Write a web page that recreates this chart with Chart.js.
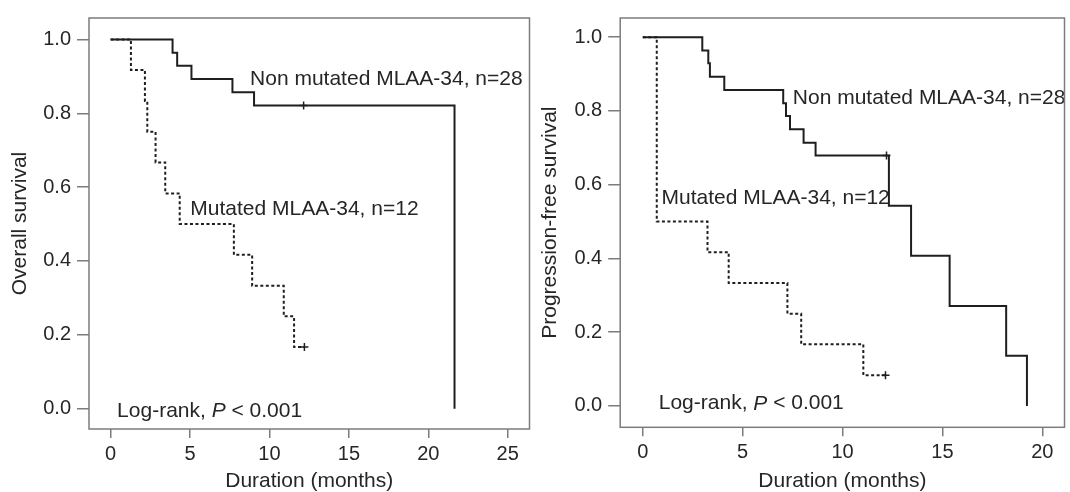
<!DOCTYPE html>
<html>
<head>
<meta charset="utf-8">
<script src="https://cdn.jsdelivr.net/npm/chart.js@4.4.0/dist/chart.umd.min.js"></script>
<style>
    html, body { margin: 0; padding: 0; background: #fff; overflow: hidden; }
    #wrap { position: relative; width: 1070px; height: 492px; overflow: hidden; }
    canvas { position: absolute; top: 0; }
</style>
</head>
<body>
<div id="wrap">
    <canvas id="osChart" width="535" height="500" style="left:0"></canvas>
    <canvas id="pfsChart" width="535" height="500" style="left:535px"></canvas>
</div>
<script>
// Tick values
const osTicksX = [0, 5, 10, 15, 20, 25];
const pfsTicksX = [0, 5, 10, 15, 20];
const survTicks = [0, 0.2, 0.4, 0.6, 0.8, 1.0];

// Overall survival - non mutated MLAA-34 (n=28)
const osNonTime = [0, 3.9, 4.19, 5.09, 7.67, 9.03, 21.65];
const osNonSurv = [1, 0.964, 0.929, 0.893, 0.857, 0.821, 0];
const osNonCensorTime = [12.15];
const osNonCensorSurv = [0.821];

// Overall survival - mutated MLAA-34 (n=12)
const osMutTime = [0, 1.28, 2.16, 2.31, 2.83, 3.44, 4.35, 7.76, 8.91, 10.9, 11.55, 12.2];
const osMutSurv = [1, 0.917, 0.833, 0.75, 0.667, 0.583, 0.5, 0.417, 0.333, 0.25, 0.167, 0.167];
const osMutCensorTime = [12.2];
const osMutCensorSurv = [0.167];

// Progression-free survival - non mutated MLAA-34 (n=28)
const pfsNonTime = [0, 2.98, 3.28, 3.36, 4.08, 7.03, 7.17, 7.37, 8.05, 8.65, 12.32, 13.43, 15.36, 18.19, 19.23];
const pfsNonSurv = [1, 0.964, 0.929, 0.893, 0.857, 0.821, 0.786, 0.75, 0.714, 0.679, 0.543, 0.407, 0.271, 0.136, 0];
const pfsNonCensorTime = [12.2];
const pfsNonCensorSurv = [0.679];

// Progression-free survival - mutated MLAA-34 (n=12)
const pfsMutTime = [0, 0.7, 3.24, 4.3, 7.24, 7.93, 11.04, 12.15];
const pfsMutSurv = [1, 0.5, 0.417, 0.333, 0.25, 0.167, 0.083, 0.083];
const pfsMutCensorTime = [12.15];
const pfsMutCensorSurv = [0.083];

const nonLabel = 'Non mutated MLAA-34, n=28';
const mutLabel = 'Mutated MLAA-34, n=12';

const lineColor = '#1e1e1e';
const frameColor = '#7c7c7c';
const textColor = '#262626';
const fontFamily = '"Liberation Sans", Arial, sans-serif';

const toPoints = (xs, ys) => xs.map((x, i) => ({ x, y: ys[i] }));

// box round the plot area
const frame = {
    id: 'frame',
    afterDraw(chart) {
        const { ctx, chartArea: a } = chart;
        ctx.save();
        ctx.strokeStyle = frameColor;
        ctx.lineWidth = 1.5;
        ctx.strokeRect(a.left, a.top, a.right - a.left, a.bottom - a.top);
        ctx.restore();
    }
};

// text labels placed in data coordinates
const makeNotes = (items) => ({
    id: 'notes',
    afterDatasetsDraw(chart) {
        const { ctx, scales } = chart;
        ctx.save();
        ctx.fillStyle = textColor;
        ctx.textBaseline = 'middle';
        ctx.textAlign = 'left';
        items.forEach((item) => {
            let x = scales.x.getPixelForValue(item.x);
            const y = scales.y.getPixelForValue(item.y);
            item.parts.forEach(([text, italic]) => {
                ctx.font = (italic ? 'italic ' : '') + '21px ' + fontFamily;
                ctx.fillText(text, x, y);
                x += ctx.measureText(text).width;
            });
        });
        ctx.restore();
    }
});

function makeChart(id, cfg) {
    const ctx = document.getElementById(id).getContext('2d');
    return new Chart(ctx, {
        type: 'line',
        data: {
            datasets: [
                {
                    data: toPoints(cfg.nonTime, cfg.nonSurv),
                    stepped: true,
                    borderColor: lineColor,
                    borderWidth: 2,
                    pointRadius: 0,
                    fill: false
                },
                {
                    data: toPoints(cfg.mutTime, cfg.mutSurv),
                    stepped: true,
                    borderColor: lineColor,
                    borderWidth: 2,
                    borderDash: [3, 2.5],
                    pointRadius: 0,
                    fill: false
                },
                {
                    data: toPoints(cfg.censorTime, cfg.censorSurv),
                    showLine: false,
                    pointStyle: 'cross',
                    pointRadius: 4,
                    borderColor: lineColor,
                    borderWidth: 1.5
                }
            ]
        },
        options: {
            responsive: false,
            animation: false,
            devicePixelRatio: 1,
            layout: { padding: cfg.padding },
            plugins: {
                legend: { display: false },
                tooltip: { enabled: false }
            },
            scales: {
                x: {
                    type: 'linear',
                    min: cfg.xMin,
                    max: cfg.xMax,
                    afterBuildTicks: (s) => { s.ticks = cfg.ticksX.map((v) => ({ value: v })); },
                    afterFit: (s) => { s.height = cfg.xHeight; },
                    border: { display: false },
                    grid: { drawOnChartArea: false, tickLength: 9, color: frameColor, lineWidth: 1.5 },
                    ticks: { padding: 4, color: textColor, font: { size: 20, family: fontFamily }, maxRotation: 0 },
                    title: {
                        display: true,
                        text: 'Duration (months)',
                        color: textColor,
                        font: { size: 21, family: fontFamily },
                        padding: { top: 0, bottom: 6 }
                    }
                },
                y: {
                    type: 'linear',
                    min: cfg.yMin,
                    max: cfg.yMax,
                    afterBuildTicks: (s) => { s.ticks = survTicks.map((v) => ({ value: v })); },
                    afterFit: (s) => { s.width = cfg.yWidth; },
                    border: { display: false },
                    grid: { drawOnChartArea: false, tickLength: 12, color: frameColor, lineWidth: 1.5 },
                    ticks: {
                        padding: 6,
                        color: textColor,
                        font: { size: 20, family: fontFamily },
                        callback: (v) => Number(v).toFixed(1)
                    },
                    title: {
                        display: true,
                        text: cfg.yTitle,
                        color: textColor,
                        font: { size: 21, family: fontFamily },
                        padding: { top: cfg.yTitlePad, bottom: 0 }
                    }
                }
            }
        },
        plugins: [frame, makeNotes(cfg.notes)]
    });
}

makeChart('osChart', {
    nonTime: osNonTime, nonSurv: osNonSurv,
    mutTime: osMutTime, mutSurv: osMutSurv,
    censorTime: osNonCensorTime.concat(osMutCensorTime),
    censorSurv: osNonCensorSurv.concat(osMutCensorSurv),
    ticksX: osTicksX,
    xMin: -1.36, xMax: 26.37,
    yMin: -0.055, yMax: 1.058,
    padding: { top: 16, right: 4.6, left: 0, bottom: 0 },
    xHeight: 71,
    yWidth: 89,
    yTitle: 'Overall survival',
    yTitlePad: 8,
    notes: [
        { x: 8.78, y: 0.893, parts: [[nonLabel, false]] },
        { x: 5.02, y: 0.54, parts: [[mutLabel, false]] },
        { x: 0.41, y: -0.007, parts: [['Log-rank, ', false], ['P', true], [' < 0.001', false]] }
    ]
});

makeChart('pfsChart', {
    nonTime: pfsNonTime, nonSurv: pfsNonSurv,
    mutTime: pfsMutTime, mutSurv: pfsMutSurv,
    censorTime: pfsNonCensorTime.concat(pfsMutCensorTime),
    censorSurv: pfsNonCensorSurv.concat(pfsMutCensorSurv),
    ticksX: pfsTicksX,
    xMin: -1.13, xMax: 21.11,
    yMin: -0.058, yMax: 1.052,
    padding: { top: 15.7, right: 1, left: 0, bottom: 0 },
    xHeight: 72.7,
    yWidth: 85.2,
    yTitle: 'Progression-free survival',
    yTitlePad: 3,
    notes: [
        { x: 7.51, y: 0.834, parts: [[nonLabel, false]] },
        { x: 0.94, y: 0.564, parts: [[mutLabel, false]] },
        { x: 0.8, y: 0.006, parts: [['Log-rank, ', false], ['P', true], [' < 0.001', false]] }
    ]
});
</script>
</body>
</html>
